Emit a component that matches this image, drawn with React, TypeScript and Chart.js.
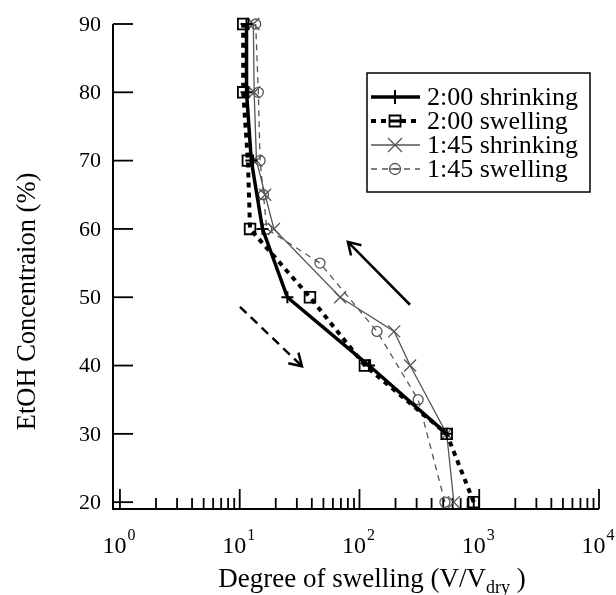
import React, { useEffect, useRef } from 'react';
import { Chart, registerables } from 'chart.js';

Chart.register(...registerables);

// ---- data ----
const yTickValues = [20, 30, 40, 50, 60, 70, 80, 90];
const xDecadeExponents = [0, 1, 2, 3, 4];
const xMinorMultipliers = [2, 3, 4, 5, 6, 7, 8, 9];

const seriesLabels = ['2:00 shrinking', '2:00 swelling', '1:45 shrinking', '1:45 swelling'];

const conc200Shrink = [30, 40, 50, 60, 70, 80, 90];
const swell200Shrink = [535, 120, 25, 15.5, 12.5, 11.4, 11.4];

const conc200Swell = [20, 30, 40, 50, 60, 70, 80, 90];
const swell200Swell = [900, 535, 111, 38.6, 12.2, 11.7, 10.7, 10.7];

const conc145Shrink = [20, 30, 40, 45, 50, 60, 65, 70, 80, 90];
const swell145Shrink = [614, 535, 265, 195, 69, 19.3, 16.3, 13.8, 13.2, 13.0];

const conc145Swell = [20, 35, 45, 55, 60, 65, 70, 80, 90];
const swell145Swell = [517, 309, 140, 46.8, 16.8, 15.8, 14.8, 14.3, 13.6];

// arrows (data coordinates: swelling degree, concentration)
const arrowShrinkX = [264, 80];
const arrowShrinkY = [48.9, 58.1];
const arrowSwellX = [10.05, 33.1];
const arrowSwellY = [48.6, 39.9];

const xTitleMain = 'Degree of swelling (V/V';
const xTitleSub = 'dry';
const xTitleEnd = ' )';
const yTitle = 'EtOH Concentraion (%)';

const FONT = '"Liberation Serif", "Times New Roman", serif';

function toPoints(xs: number[], ys: number[]) {
  return xs.map((v, i) => ({ x: v, y: ys[i] }));
}

const legendStyles = [
  { color: '#000', width: 3.5, dash: [] as number[], marker: 'cross' },
  { color: '#000', width: 4, dash: [5, 5], marker: 'rect' },
  { color: '#555', width: 1.3, dash: [] as number[], marker: 'crossRot' },
  { color: '#555', width: 1.3, dash: [6, 5], marker: 'circle' },
];

function drawMarker(ctx: CanvasRenderingContext2D, kind: string, x: number, y: number, color: string) {
  ctx.save();
  ctx.setLineDash([]);
  ctx.strokeStyle = color;
  ctx.beginPath();
  if (kind === 'cross') {
    ctx.lineWidth = 2;
    ctx.moveTo(x - 6, y); ctx.lineTo(x + 6, y);
    ctx.moveTo(x, y - 7); ctx.lineTo(x, y + 7);
    ctx.stroke();
  } else if (kind === 'rect') {
    ctx.lineWidth = 1.8;
    ctx.fillStyle = '#fff';
    ctx.rect(x - 5.5, y - 5.5, 11, 11);
    ctx.fill();
    ctx.stroke();
    ctx.beginPath();
    ctx.lineWidth = 3;
    ctx.moveTo(x - 5, y); ctx.lineTo(x + 5, y);
    ctx.stroke();
  } else if (kind === 'crossRot') {
    ctx.lineWidth = 1.3;
    ctx.moveTo(x - 7, y - 7); ctx.lineTo(x + 7, y + 7);
    ctx.moveTo(x - 7, y + 7); ctx.lineTo(x + 7, y - 7);
    ctx.stroke();
  } else {
    ctx.lineWidth = 1.3;
    ctx.arc(x, y, 5.5, 0, Math.PI * 2);
    ctx.stroke();
    ctx.beginPath();
    ctx.moveTo(x - 5.5, y); ctx.lineTo(x + 5.5, y);
    ctx.stroke();
  }
  ctx.restore();
}

function drawArrow(ctx: CanvasRenderingContext2D, x1: number, y1: number, x2: number, y2: number, dash: number[]) {
  ctx.save();
  ctx.strokeStyle = '#000';
  ctx.lineWidth = 2.5;
  ctx.setLineDash(dash);
  ctx.beginPath();
  ctx.moveTo(x1, y1);
  ctx.lineTo(x2, y2);
  ctx.stroke();
  ctx.setLineDash([]);
  const ang = Math.atan2(y1 - y2, x1 - x2);
  const len = 14;
  const spread = 0.55;
  ctx.beginPath();
  ctx.moveTo(x2 + Math.cos(ang + spread) * len, y2 + Math.sin(ang + spread) * len);
  ctx.lineTo(x2, y2);
  ctx.lineTo(x2 + Math.cos(ang - spread) * len, y2 + Math.sin(ang - spread) * len);
  ctx.stroke();
  ctx.restore();
}

const axesPlugin = {
  id: 'customAxes',
  beforeDatasetsDraw(chart: any) {
    const { ctx, chartArea } = chart;
    const x = chart.scales.x;
    const y = chart.scales.y;
    ctx.save();
    ctx.strokeStyle = '#000';
    ctx.lineWidth = 2;
    ctx.setLineDash([]);
    const yTop = y.getPixelForValue(yTickValues[yTickValues.length - 1]);
    const xRight = x.getPixelForValue(Math.pow(10, xDecadeExponents[xDecadeExponents.length - 1]));
    ctx.beginPath();
    ctx.moveTo(chartArea.left, yTop);
    ctx.lineTo(chartArea.left, chartArea.bottom);
    ctx.lineTo(xRight, chartArea.bottom);
    ctx.stroke();

    // y ticks + labels
    ctx.lineWidth = 1.8;
    ctx.fillStyle = '#000';
    ctx.font = '22px ' + FONT;
    ctx.textAlign = 'right';
    ctx.textBaseline = 'middle';
    for (const v of yTickValues) {
      const py = y.getPixelForValue(v);
      ctx.beginPath();
      ctx.moveTo(chartArea.left, py);
      ctx.lineTo(chartArea.left + 20, py);
      ctx.stroke();
      ctx.fillText(String(v), chartArea.left - 12, py + 1);
    }

    // x ticks
    for (const d of xDecadeExponents) {
      const px = x.getPixelForValue(Math.pow(10, d));
      ctx.beginPath();
      ctx.moveTo(px, chartArea.bottom);
      ctx.lineTo(px, chartArea.bottom - 20);
      ctx.stroke();
      if (d < xDecadeExponents[xDecadeExponents.length - 1]) {
        for (const m of xMinorMultipliers) {
          const pm = x.getPixelForValue(m * Math.pow(10, d));
          ctx.beginPath();
          ctx.moveTo(pm, chartArea.bottom);
          ctx.lineTo(pm, chartArea.bottom - 11);
          ctx.stroke();
        }
      }
      // label 10^d, whole label centred on the tick
      ctx.textAlign = 'left';
      ctx.textBaseline = 'alphabetic';
      ctx.font = '24px ' + FONT;
      const w10 = ctx.measureText('10').width;
      ctx.font = '16px ' + FONT;
      const wExp = ctx.measureText(String(d)).width;
      const startX = px - (w10 + 1 + wExp) / 2 - 1;
      ctx.font = '24px ' + FONT;
      ctx.fillText('10', startX, chartArea.bottom + 44);
      ctx.font = '16px ' + FONT;
      ctx.fillText(String(d), startX + w10 + 1, chartArea.bottom + 31);
    }

    // x title with subscript
    ctx.font = '27px ' + FONT;
    const wMain = ctx.measureText(xTitleMain).width;
    const wEnd = ctx.measureText(xTitleEnd).width;
    ctx.font = '18px ' + FONT;
    const wSub = ctx.measureText(xTitleSub).width;
    const total = wMain + wSub + wEnd;
    const cx = (chartArea.left + chartArea.right) / 2 + 16;
    let sx = cx - total / 2;
    const baseY = chartArea.bottom + 78;
    ctx.font = '27px ' + FONT;
    ctx.fillText(xTitleMain, sx, baseY);
    sx += wMain;
    ctx.font = '18px ' + FONT;
    ctx.fillText(xTitleSub, sx, baseY + 6);
    sx += wSub;
    ctx.font = '27px ' + FONT;
    ctx.fillText(xTitleEnd, sx, baseY);

    // y title
    ctx.save();
    ctx.translate(chartArea.left - 85, (chartArea.top + chartArea.bottom) / 2 + 35);
    ctx.rotate(-Math.PI / 2);
    ctx.textAlign = 'center';
    ctx.textBaseline = 'middle';
    ctx.font = '26.5px ' + FONT;
    ctx.fillText(yTitle, 0, 0);
    ctx.restore();

    ctx.restore();
  },
  afterDatasetsDraw(chart: any) {
    const { ctx } = chart;
    const x = chart.scales.x;
    const y = chart.scales.y;
    drawArrow(ctx, x.getPixelForValue(arrowShrinkX[0]), y.getPixelForValue(arrowShrinkY[0]),
      x.getPixelForValue(arrowShrinkX[1]), y.getPixelForValue(arrowShrinkY[1]), []);
    drawArrow(ctx, x.getPixelForValue(arrowSwellX[0]), y.getPixelForValue(arrowSwellY[0]),
      x.getPixelForValue(arrowSwellX[1]), y.getPixelForValue(arrowSwellY[1]), [9, 6]);

    // legend
    const bx = 367, by = 73, bw = 223, bh = 119;
    ctx.save();
    ctx.fillStyle = '#fff';
    ctx.fillRect(bx, by, bw, bh);
    ctx.strokeStyle = '#000';
    ctx.lineWidth = 1.5;
    ctx.strokeRect(bx, by, bw, bh);
    ctx.font = '26px ' + FONT;
    ctx.textAlign = 'left';
    ctx.textBaseline = 'middle';
    seriesLabels.forEach((label, i) => {
      const st = legendStyles[i];
      const ry = by + 24 + i * 24;
      ctx.strokeStyle = st.color;
      ctx.lineWidth = st.width;
      ctx.setLineDash(st.dash);
      ctx.beginPath();
      ctx.moveTo(bx + 4, ry);
      ctx.lineTo(bx + 53, ry);
      ctx.stroke();
      ctx.setLineDash([]);
      drawMarker(ctx, st.marker, bx + 28, ry, st.color);
      ctx.fillStyle = '#000';
      ctx.fillText(label, bx + 60, ry + 1);
    });
    ctx.restore();
  },
};

export default function App() {
  const ref = useRef<HTMLCanvasElement | null>(null);
  useEffect(() => {
    if (!ref.current) return;
    const chart = new Chart(ref.current, {
      type: 'scatter',
      data: {
        datasets: [
          {
            label: seriesLabels[0],
            data: toPoints(swell200Shrink, conc200Shrink),
            showLine: true,
            borderColor: '#000',
            borderWidth: 3.5,
            pointStyle: 'cross',
            pointRadius: 6,
            pointBorderWidth: 2,
            pointBorderColor: '#000',
            pointBackgroundColor: '#000',
            clip: false,
            order: 1,
          },
          {
            label: seriesLabels[1],
            data: toPoints(swell200Swell, conc200Swell),
            showLine: true,
            borderColor: '#000',
            borderWidth: 4,
            borderDash: [5, 5],
            pointStyle: 'rect',
            pointRadius: 7.5,
            pointBorderWidth: 1.8,
            pointBorderColor: '#000',
            pointBackgroundColor: 'rgba(0,0,0,0)',
            clip: false,
            order: 2,
          },
          {
            label: seriesLabels[2],
            data: toPoints(swell145Shrink, conc145Shrink),
            showLine: true,
            borderColor: '#555',
            borderWidth: 1.3,
            pointStyle: 'crossRot',
            pointRadius: 8.5,
            pointBorderWidth: 1.3,
            pointBorderColor: '#555',
            pointBackgroundColor: '#555',
            clip: false,
            order: 3,
          },
          {
            label: seriesLabels[3],
            data: toPoints(swell145Swell, conc145Swell),
            showLine: true,
            borderColor: '#555',
            borderWidth: 1.3,
            borderDash: [6, 5],
            pointStyle: 'circle',
            pointRadius: 5,
            pointBorderWidth: 1.3,
            pointBorderColor: '#555',
            pointBackgroundColor: 'rgba(0,0,0,0)',
            clip: false,
            order: 4,
          },
        ],
      },
      options: {
        responsive: false,
        animation: false,
        devicePixelRatio: 1,
        layout: { padding: { left: 113, right: 17, top: 24, bottom: 86 } },
        plugins: {
          legend: { display: false },
          tooltip: { enabled: false },
        },
        scales: {
          x: { type: 'logarithmic', min: 0.875, max: 10000, display: false },
          y: { type: 'linear', min: 19, max: 90, display: false },
        },
      },
      plugins: [axesPlugin],
    } as any);
    return () => chart.destroy();
  }, []);
  return (
    <canvas
      ref={ref}
      width={616}
      height={595}
      style={{ position: 'absolute', left: 0, top: 0, width: 616, height: 595, display: 'block' }}
    />
  );
}
